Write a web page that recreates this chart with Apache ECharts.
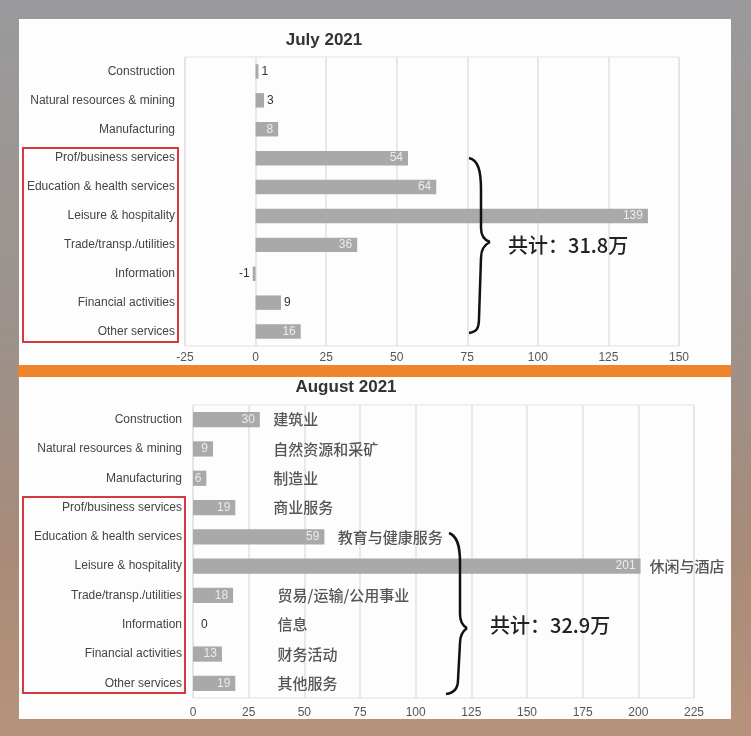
<!DOCTYPE html>
<html><head><meta charset="utf-8">
<script src="https://cdn.jsdelivr.net/npm/echarts@6/dist/echarts.min.js"></script>
<style>
html,body{margin:0;padding:0;}
body{width:751px;height:736px;background:linear-gradient(180deg,#9a9a9c 0%,#9c928c 45%,#a88b78 75%,#b6937c 100%);}
#c{width:751px;height:736px;}
</style></head>
<body><div id="c"></div>
<script>
const categories = ['Construction','Natural resources & mining','Manufacturing','Prof/business services','Education & health services','Leisure & hospitality','Trade/transp./utilities','Information','Financial activities','Other services'];
const julyValues = [1, 3, 8, 54, 64, 139, 36, -1, 9, 16];
const augValues = [30, 9, 6, 19, 59, 201, 18, 0, 13, 19];
const julyTicks = [-25, 150, 25];   // min, max, interval
const augTicks = [0, 225, 25];
const julyOutsideLabels = ['Construction','Natural resources & mining','Information','Financial activities'];
const augOutsideLabels = ['Information'];
const augNotes = ['建筑业','自然资源和采矿','制造业','商业服务','教育与健康服务','休闲与酒店','贸易/运输/公用事业','信息','财务活动','其他服务'];
const augNoteAnchor = [36, 36, 36, 36, 65, 205, 38, 38, 38, 38];
const julyTotal = '共计：31.8万';
const augTotal = '共计：32.9万';

const FONT = 'Liberation Sans, Arial, sans-serif';
const CJK = 'Noto Sans CJK SC, sans-serif';
const BAR = '#a9a9a9';

function barData(values, outside) {
  return values.map((v, i) => {
    const out = outside.indexOf(categories[i]) >= 0;
    return {
      value: v,
      label: out
        ? { position: v < 0 ? 'left' : 'right', color: '#333', distance: v === 0 ? 8 : 3 }
        : { position: 'insideRight', color: '#ececec', distance: 5 }
    };
  });
}

// curly brace drawn as bezier segments (decoration)
function brace(pts, cps) {
  const st = { stroke: '#111', lineWidth: 2.5, fill: 'none' };
  const segs = [];
  for (let i = 0; i < pts.length - 1; i++) {
    const a = pts[i], b = pts[i + 1], c = cps[i];
    if (c) {
      segs.push({ type: 'bezierCurve', z: 50, shape: { x1: a[0], y1: a[1], x2: b[0], y2: b[1], cpx1: c[0], cpy1: c[1], cpx2: c[2], cpy2: c[3] }, style: st });
    } else {
      segs.push({ type: 'line', z: 50, shape: { x1: a[0], y1: a[1], x2: b[0], y2: b[1] }, style: st });
    }
  }
  return segs;
}

const braceJuly = brace([[469,158],[481,190],[481,228],[490,242],[481,258],[479,318],[469,333]],
  [[478,160,481,170], null, [481,236,484,240], [484,245,481,249], null, [479,328,477,332]]);
const braceAug = brace([[449,533],[460,562],[460,614],[467,628],[460,643],[458,680],[446,694]],
  [[457,536,460,545], null, [460,622,463,626], [463,631,460,635], null, [458,689,454,693]]);

const chart = echarts.init(document.getElementById('c'), null, { renderer: 'canvas' });
chart.setOption({
  animation: false,
  backgroundColor: 'transparent',
  title: [
    { text: 'July 2021', left: 319, top: 27, textAlign: 'center',
      textStyle: { fontFamily: FONT, fontSize: 17, fontWeight: 600, color: '#333' } },
    { text: 'August 2021', left: 341, top: 374, textAlign: 'center',
      textStyle: { fontFamily: FONT, fontSize: 17, fontWeight: 600, color: '#333' } }
  ],
  grid: [
    { left: 185, right: 72, top: 57, height: 289, show: true, borderColor: '#e2e2e2', borderWidth: 1, backgroundColor: 'transparent' },
    { left: 193, right: 57, top: 405, height: 293, show: true, borderColor: '#e2e2e2', borderWidth: 1, backgroundColor: 'transparent' }
  ],
  xAxis: [
    { type: 'value', gridIndex: 0, min: julyTicks[0], max: julyTicks[1], interval: julyTicks[2],
      axisLine: { show: false }, axisTick: { show: false },
      splitLine: { lineStyle: { color: '#e0e0e0', width: 1.5 } },
      axisLabel: { fontFamily: FONT, fontSize: 12, color: '#555', margin: 6 } },
    { type: 'value', gridIndex: 1, min: augTicks[0], max: augTicks[1], interval: augTicks[2],
      axisLine: { show: false }, axisTick: { show: false },
      splitLine: { lineStyle: { color: '#e0e0e0', width: 1.5 } },
      axisLabel: { fontFamily: FONT, fontSize: 12, color: '#555', margin: 9 } }
  ],
  yAxis: [
    { type: 'category', gridIndex: 0, data: categories, inverse: true,
      axisLine: { show: false }, axisTick: { show: false },
      axisLabel: { fontFamily: FONT, fontSize: 12, color: '#444', margin: 10 } },
    { type: 'category', gridIndex: 1, data: categories, inverse: true,
      axisLine: { show: false }, axisTick: { show: false },
      axisLabel: { fontFamily: FONT, fontSize: 12, color: '#444', margin: 11 } }
  ],
  series: [
    { type: 'bar', xAxisIndex: 0, yAxisIndex: 0, barWidth: '50%',
      itemStyle: { color: BAR },
      label: { show: true, fontFamily: FONT, fontSize: 12 },
      data: barData(julyValues, julyOutsideLabels) },
    { type: 'bar', xAxisIndex: 1, yAxisIndex: 1, barWidth: '52%',
      itemStyle: { color: BAR },
      label: { show: true, fontFamily: FONT, fontSize: 12 },
      data: barData(augValues, augOutsideLabels) },
    { type: 'scatter', xAxisIndex: 1, yAxisIndex: 1, symbolSize: 0, silent: true,
      data: augNoteAnchor.map((v, i) => [v, categories[i]]),
      label: { show: true, position: 'right', distance: 0, fontFamily: CJK, fontSize: 15, fontWeight: 500, color: '#2a2a2a',
        formatter: p => augNotes[p.dataIndex] } }
  ],
  graphic: [
    { type: 'rect', z: -100, shape: { x: 19, y: 19, width: 712, height: 347 }, style: { fill: '#fdfdfd' } },
    { type: 'rect', z: -100, shape: { x: 19, y: 377, width: 712, height: 342 }, style: { fill: '#fdfdfd' } },
    { type: 'rect', z: 50, shape: { x: 18, y: 365, width: 713, height: 12 }, style: { fill: '#f0842c' } },
    { type: 'rect', z: 50, shape: { x: 23, y: 148, width: 155, height: 194 }, style: { fill: 'none', stroke: '#d8383f', lineWidth: 2 } },
    { type: 'rect', z: 50, shape: { x: 23, y: 497, width: 162, height: 196 }, style: { fill: 'none', stroke: '#d8383f', lineWidth: 2 } },
    ...braceJuly,
    ...braceAug,
    { type: 'text', z: 50, left: 508, top: 235, style: { text: julyTotal, font: '500 20px Noto Sans CJK SC', fill: '#222' } },
    { type: 'text', z: 50, left: 490, top: 615, style: { text: augTotal, font: '500 20px Noto Sans CJK SC', fill: '#222' } }
  ]
});
</script>
</body></html>
